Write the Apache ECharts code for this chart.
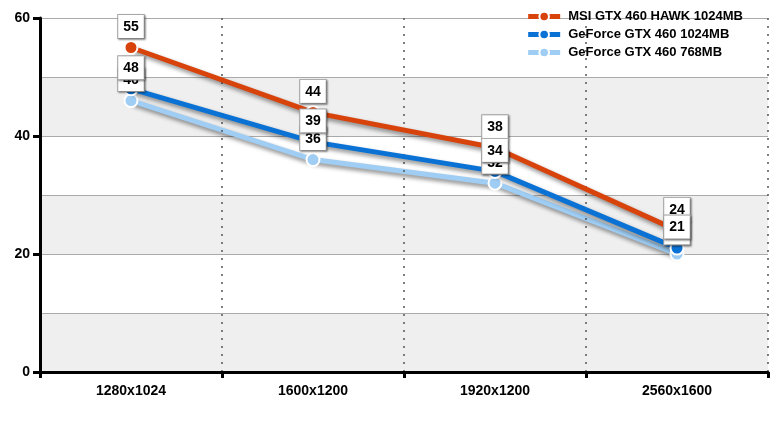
<!DOCTYPE html>
<html><head><meta charset="utf-8">
<script src="https://cdn.jsdelivr.net/npm/echarts@6/dist/echarts.min.js"></script>
<style>html,body{margin:0;padding:0;background:#fff}#c{width:776px;height:432px}</style>
</head><body><div id="c"></div>
<script>
const categories = ['1280x1024','1600x1200','1920x1200','2560x1600'];
const msiHawk = [55, 44, 38, 24];
const gtx1024 = [48, 39, 34, 21];
const gtx768 = [46, 36, 32, 20];
const seriesNames = ['MSI GTX 460 HAWK 1024MB','GeForce GTX 460 1024MB','GeForce GTX 460 768MB'];
const colors = ['#d8430c','#0a72d4','#9fcdf3'];
const FONT = 'Liberation Sans, Arial, sans-serif';

const chart = echarts.init(document.getElementById('c'), null, {renderer:'canvas'});
function mk(name, data, color, z){
  return {
    name, type:'line', data, z,
    symbol:'circle', symbolSize:13,
    itemStyle:{color, borderColor:'#fff', borderWidth:2},
    lineStyle:{color, width:5, shadowColor:'rgba(0,0,0,0.45)', shadowBlur:4, shadowOffsetX:2, shadowOffsetY:3},
    label:{show:false},
    emphasis:{disabled:true}, animation:false
  };
}
function lbl(name, data, z){
  return {
    name:'lbl-'+name, type:'line', data, z,
    symbol:'circle', symbolSize:13,
    itemStyle:{color:'rgba(0,0,0,0)', borderWidth:0}, lineStyle:{color:'rgba(0,0,0,0)', width:0},
    label:{show:true, position:'top', distance:3, color:'#000', fontWeight:'bold', fontSize:14,
      fontFamily:FONT,
      backgroundColor:'#fff', borderColor:'#aaa', borderWidth:1, padding:[5,5,4,5],
      shadowColor:'rgba(0,0,0,0.35)', shadowBlur:2, shadowOffsetX:1, shadowOffsetY:1},
    emphasis:{disabled:true}, animation:false, silent:true
  };
}
chart.setOption({
  animation:false,
  grid:{left:40, right:8, top:18, bottom:60, containLabel:false},
  legend:{
    right:28, top:5, orient:'vertical', itemGap:5, itemWidth:32, itemHeight:12,
    lineStyle:{width:5},
    textStyle:{fontWeight:'bold', fontSize:13, color:'#000', fontFamily:FONT, padding:[0,0,0,3]},
    data:seriesNames
  },
  xAxis:{
    type:'category', data:categories, boundaryGap:true, z:3,
    axisLine:{lineStyle:{color:'#000', width:3}},
    axisTick:{show:true, length:6, lineStyle:{color:'#000', width:3}},
    axisLabel:{color:'#000', fontWeight:'bold', fontSize:14, margin:12, fontFamily:FONT},
    splitLine:{show:true, lineStyle:{color:'#555', type:[2,6], width:1.5}}
  },
  yAxis:[{
    type:'value', min:0, max:60, interval:20, z:3,
    axisLine:{show:true, lineStyle:{color:'#000', width:3}},
    axisTick:{show:true, length:7, lineStyle:{color:'#000', width:3}},
    axisLabel:{color:'#000', fontWeight:'bold', fontSize:14, margin:10, fontFamily:FONT},
    splitLine:{show:false}
  },{
    type:'value', min:0, max:60, interval:10, position:'left', z:0,
    axisLine:{show:false}, axisTick:{show:false}, axisLabel:{show:false},
    splitLine:{show:true, lineStyle:{color:'#aaa', width:1}},
    splitArea:{show:true, areaStyle:{color:['#efefef','#ffffff']}}
  }],
  series:[
    mk(seriesNames[2], gtx768, colors[2], 2),
    mk(seriesNames[1], gtx1024, colors[1], 3),
    mk(seriesNames[0], msiHawk, colors[0], 4),
    lbl(seriesNames[2], gtx768, 10),
    lbl(seriesNames[0], msiHawk, 11),
    lbl(seriesNames[1], gtx1024, 12)
  ]
});
</script></body></html>
